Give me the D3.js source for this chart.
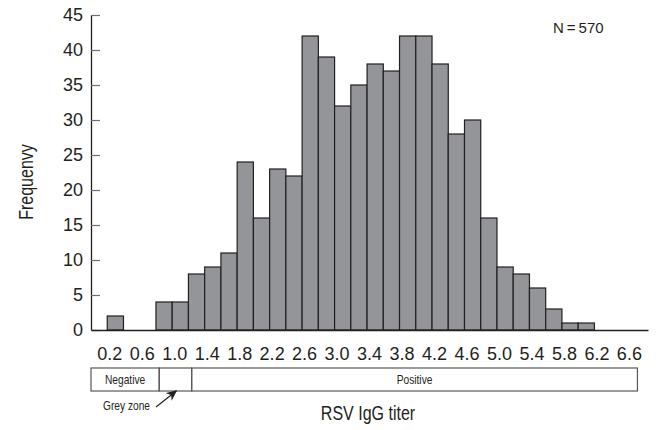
<!DOCTYPE html>
<html>
<head>
<meta charset="utf-8">
<script src="https://cdn.jsdelivr.net/npm/d3@7"></script>
<style>
  body { margin: 0; background: #fff; }
  svg text { font-family: "Liberation Sans Narrow", "Arial Narrow", "Liberation Sans", sans-serif; fill: #231f20; }
</style>
</head>
<body>
<svg width="656" height="430"></svg>
<script>
// bin start (titer) and count per bin
var binStarts = [0.2, 0.4, 0.6, 0.8, 1.0, 1.2, 1.4, 1.6, 1.8, 2.0, 2.2, 2.4, 2.6, 2.8, 3.0, 3.2, 3.4, 3.6, 3.8, 4.0, 4.2, 4.4, 4.6, 4.8, 5.0, 5.2, 5.4, 5.6, 5.8, 6.0];
var counts =    [2,   0,   0,   4,   4,   8,   9,   11,  24,  16,  23,  22,  42,  39,  32,  35,  38,  37,  42,  42,  38,  28,  30,  16,  9,   8,   6,   3,   1,   1];
var binWidth = 0.2;
var xTicks = [0.2, 0.6, 1.0, 1.4, 1.8, 2.2, 2.6, 3.0, 3.4, 3.8, 4.2, 4.6, 5.0, 5.4, 5.8, 6.2, 6.6];
var yTicks = [0, 5, 10, 15, 20, 25, 30, 35, 40, 45];
var zoneLabels = ["Negative", "", "Positive"];
var zoneEdges = [0, 0.84, 1.24, 6.73];

var svg = d3.select("svg");
var narrow = 0.8; // no condensed font installed, squeeze titles instead

var x = d3.scaleLinear().domain([0, 6.86]).range([91, 648]);
var y = d3.scaleLinear().domain([0, 45]).range([330, 15]);

var data = binStarts.map(function (b, i) { return { start: b, count: counts[i] }; });

// bars
svg.append("g")
  .selectAll("rect")
  .data(data.filter(function (d) { return d.count > 0; }))
  .enter().append("rect")
  .attr("x", function (d) { return x(d.start); })
  .attr("width", function (d) { return x(d.start + binWidth) - x(d.start); })
  .attr("y", function (d) { return y(d.count); })
  .attr("height", function (d) { return y(0) - y(d.count); })
  .attr("fill", "#939598")
  .attr("stroke", "#231f20")
  .attr("stroke-width", 1.2);

// y axis, ticks pointing inward
var yAxis = svg.append("g")
  .attr("transform", "translate(" + x(0) + ",0)")
  .call(d3.axisLeft(y).tickValues(yTicks).tickSizeInner(-9).tickSizeOuter(0).tickPadding(8));
yAxis.select(".domain").attr("stroke", "#231f20").attr("stroke-width", 1.3);
yAxis.selectAll(".tick line").attr("stroke", "#6d6e71").attr("stroke-width", 1.2);
yAxis.selectAll(".tick text").attr("font-size", 18);

// x axis, labels only
var xAxis = svg.append("g")
  .attr("transform", "translate(0," + y(0) + ")")
  .call(d3.axisBottom(x).tickValues(xTicks).tickFormat(d3.format(".1f")).tickSize(0).tickPadding(17));
xAxis.select(".domain").attr("stroke", "#231f20").attr("stroke-width", 1.5);
xAxis.selectAll(".tick text").attr("font-size", 18).attr("dx", 2);
xAxis.attr("font-family", null);
yAxis.attr("font-family", null);

// axis titles
svg.append("text")
  .attr("transform", "translate(33,182) rotate(-90) scale(" + narrow + ",1)")
  .attr("text-anchor", "middle")
  .attr("font-size", 20)
  .text("Frequenvy");

svg.append("text")
  .attr("transform", "translate(368,420) scale(" + narrow + ",1)")
  .attr("text-anchor", "middle")
  .attr("font-size", 20)
  .text("RSV IgG titer");

svg.append("text")
  .attr("x", 553)
  .attr("y", 33)
  .attr("font-size", 15)
  .text("N\u2009=\u2009570");

// interpretation zones under the axis
var zones = svg.append("g");
zones.selectAll("rect")
  .data(zoneLabels)
  .enter().append("rect")
  .attr("x", function (d, i) { return x(zoneEdges[i]); })
  .attr("width", function (d, i) { return x(zoneEdges[i + 1]) - x(zoneEdges[i]); })
  .attr("y", 368)
  .attr("height", 23)
  .attr("fill", "none")
  .attr("stroke", "#58595b")
  .attr("stroke-width", 1.2);
zones.selectAll("text")
  .data(zoneLabels)
  .enter().append("text")
  .attr("transform", function (d, i) {
    return "translate(" + (x(zoneEdges[i]) + x(zoneEdges[i + 1])) / 2 + ",384) scale(0.85,1)";
  })
  .attr("text-anchor", "middle")
  .attr("font-size", 12)
  .text(function (d) { return d; });

// grey zone pointer
svg.append("defs").append("marker")
  .attr("id", "arrow")
  .attr("viewBox", "0 0 10 10")
  .attr("refX", 9).attr("refY", 5)
  .attr("markerWidth", 9).attr("markerHeight", 9)
  .attr("orient", "auto")
  .append("path")
  .attr("d", "M0,0.5 L10,5 L0,9.5 L3,5 z")
  .attr("fill", "#231f20");

svg.append("line")
  .attr("x1", 156).attr("y1", 407)
  .attr("x2", x(1.05)).attr("y2", 391)
  .attr("stroke", "#231f20")
  .attr("stroke-width", 1.2)
  .attr("marker-end", "url(#arrow)");

svg.append("text")
  .attr("transform", "translate(150,410) scale(0.85,1)")
  .attr("text-anchor", "end")
  .attr("font-size", 12)
  .text("Grey zone");
</script>
</body>
</html>
